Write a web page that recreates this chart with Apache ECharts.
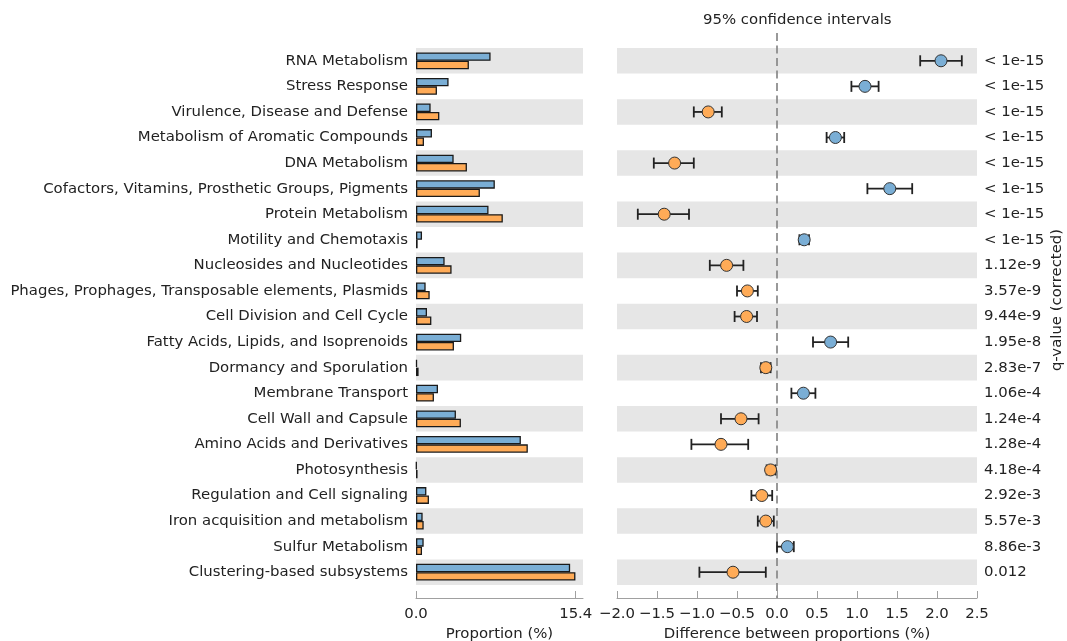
<!DOCTYPE html>
<html>
<head>
<meta charset="utf-8">
<script src="https://cdn.jsdelivr.net/npm/echarts@6/dist/echarts.min.js"></script>
<style>
html,body{margin:0;padding:0;background:#fff;}
#chart{width:1067px;height:641px;}
</style>
</head>
<body>
<div id="chart"></div>
<script>
const categories = ['RNA Metabolism','Stress Response','Virulence, Disease and Defense','Metabolism of Aromatic Compounds','DNA Metabolism','Cofactors, Vitamins, Prosthetic Groups, Pigments','Protein Metabolism','Motility and Chemotaxis','Nucleosides and Nucleotides','Phages, Prophages, Transposable elements, Plasmids','Cell Division and Cell Cycle','Fatty Acids, Lipids, and Isoprenoids','Dormancy and Sporulation','Membrane Transport','Cell Wall and Capsule','Amino Acids and Derivatives','Photosynthesis','Regulation and Cell signaling','Iron acquisition and metabolism','Sulfur Metabolism','Clustering-based subsystems'];
const blueProportion = [7.19,3.14,1.41,1.54,3.63,7.60,6.99,0.58,2.76,0.93,1.06,4.36,0.10,2.12,3.85,10.11,0.06,1.00,0.64,0.74,14.86];
const orangeProportion = [5.10,2.02,2.25,0.77,4.91,6.16,8.37,0.16,3.43,1.32,1.48,3.66,0.25,1.73,4.33,10.78,0.15,1.25,0.74,0.58,15.37];
const difference = [2.05,1.10,-0.86,0.73,-1.28,1.41,-1.41,0.34,-0.63,-0.37,-0.38,0.67,-0.14,0.33,-0.45,-0.70,-0.08,-0.19,-0.14,0.13,-0.55];
const ciLow = [1.79,0.93,-1.04,0.62,-1.54,1.13,-1.74,0.28,-0.84,-0.50,-0.53,0.45,-0.20,0.18,-0.70,-1.07,-0.13,-0.32,-0.24,0.00,-0.97];
const ciHigh = [2.31,1.27,-0.69,0.84,-1.04,1.69,-1.10,0.40,-0.42,-0.24,-0.25,0.89,-0.08,0.48,-0.23,-0.36,-0.02,-0.06,-0.04,0.21,-0.14];
const qValues = ['< 1e-15','< 1e-15','< 1e-15','< 1e-15','< 1e-15','< 1e-15','< 1e-15','< 1e-15','1.12e-9','3.57e-9','9.44e-9','1.95e-8','2.83e-7','1.06e-4','1.24e-4','1.28e-4','4.18e-4','2.92e-3','5.57e-3','8.86e-3','0.012'];
const proportionTicks = [0, 15.4];
const proportionMax = 16.1;
const diffMin = -2.0, diffMax = 2.5, diffStep = 0.5;

const BLUE = '#7AAED5', ORANGE = '#FFAB57';
const FONT = 'DejaVu Sans';
const TXT = '#222';
const FS = 14.9;

const chart = echarts.init(document.getElementById('chart'), null, {renderer: 'canvas'});

const fmtMinus = v => (v < 0 ? '\u2212' : '') + Math.abs(v).toFixed(1);

const option = {
  animation: false,
  backgroundColor: '#fff',
  textStyle: {fontFamily: FONT},
  grid: [
    {left: 416, top: 48, width: 167, height: 537, containLabel: false, outerBoundsMode: 'none'},
    {left: 617, top: 48, width: 360, height: 537, containLabel: false, outerBoundsMode: 'none'}
  ],
  xAxis: [
    {
      gridIndex: 0, type: 'value', min: 0, max: proportionMax, offset: 13,
      splitLine: {show: false},
      axisLine: {show: true, lineStyle: {color: '#a0a0a0', width: 1}},
      axisTick: {show: true, inside: true, length: 7, lineStyle: {color: '#a0a0a0'}, customValues: proportionTicks},
      axisLabel: {show: true, customValues: proportionTicks, formatter: v => v.toFixed(1), color: TXT, fontSize: FS, fontFamily: FONT, margin: 9},
      name: 'Proportion (%)', nameLocation: 'middle', nameGap: 28,
      nameTextStyle: {color: TXT, fontSize: FS, fontFamily: FONT}
    },
    {
      gridIndex: 1, type: 'value', min: diffMin, max: diffMax, interval: diffStep, offset: 13,
      splitLine: {show: false},
      axisLine: {show: true, lineStyle: {color: '#a0a0a0', width: 1}},
      axisTick: {show: true, inside: true, length: 7, lineStyle: {color: '#a0a0a0'}},
      axisLabel: {formatter: fmtMinus, color: TXT, fontSize: FS, fontFamily: FONT, margin: 9, showMinLabel: true, showMaxLabel: true},
      name: 'Difference between proportions (%)', nameLocation: 'middle', nameGap: 28,
      nameTextStyle: {color: TXT, fontSize: FS, fontFamily: FONT}
    }
  ],
  yAxis: [
    {
      gridIndex: 0, type: 'category', data: categories, inverse: true,
      axisLine: {show: false}, axisTick: {show: false},
      axisLabel: {color: TXT, fontSize: FS, fontFamily: FONT, margin: 8},
      splitLine: {show: false},
      splitArea: {show: true, areaStyle: {color: ['#e6e6e6', 'rgba(255,255,255,0)']}}
    },
    {
      gridIndex: 1, type: 'category', data: categories, inverse: true,
      axisLine: {show: false}, axisTick: {show: false}, axisLabel: {show: false},
      splitLine: {show: false},
      splitArea: {show: true, areaStyle: {color: ['#e6e6e6', 'rgba(255,255,255,0)']}}
    },
    {
      gridIndex: 1, type: 'category', data: categories, inverse: true, position: 'right',
      axisLine: {show: false}, axisTick: {show: false},
      axisLabel: {color: TXT, fontSize: FS, fontFamily: FONT, margin: 7, formatter: (v, i) => qValues[i]},
      splitLine: {show: false}, splitArea: {show: false}
    }
  ],
  graphic: [
    {type: 'text', left: 703, top: 13, style: {text: '95% confidence intervals', fill: TXT, font: FS + 'px "' + FONT + '"'}},
    {type: 'text', x: 1057, y: 300, rotation: Math.PI / 2,
      style: {text: 'q-value (corrected)', fill: TXT, font: FS + 'px "' + FONT + '"', align: 'center', verticalAlign: 'middle'}}
  ],
  series: [
    {
      type: 'bar', xAxisIndex: 0, yAxisIndex: 0, data: blueProportion,
      barWidth: 8.4, barGap: '0%',
      itemStyle: {color: BLUE, borderColor: '#1a1a1a', borderWidth: 1.3}
    },
    {
      type: 'bar', xAxisIndex: 0, yAxisIndex: 0, data: orangeProportion,
      barWidth: 8.4, barGap: '0%',
      itemStyle: {color: ORANGE, borderColor: '#1a1a1a', borderWidth: 1.3}
    },
    {
      type: 'custom', xAxisIndex: 1, yAxisIndex: 1, z: 1, silent: true,
      data: [[0, 0]],
      renderItem: (params, api) => {
        const x = api.coord([api.value(0), 0])[0];
        return {type: 'line', shape: {x1: x, y1: 33, x2: x, y2: 598},
          style: {stroke: '#888', lineWidth: 1.7, lineDash: [8, 4.5]}};
      }
    },
    {
      type: 'custom', xAxisIndex: 1, yAxisIndex: 1, z: 3, silent: true,
      encode: {x: [0, 1], y: 2},
      data: categories.map((c, i) => [ciLow[i], ciHigh[i], i]),
      renderItem: (params, api) => {
        const a = api.coord([api.value(0), api.value(2)]);
        const b = api.coord([api.value(1), api.value(2)]);
        const h = 5.5;
        const st = {stroke: '#222', lineWidth: 1.8};
        return {type: 'group', children: [
          {type: 'line', shape: {x1: a[0], y1: a[1], x2: b[0], y2: b[1]}, style: st},
          {type: 'line', shape: {x1: a[0], y1: a[1] - h, x2: a[0], y2: a[1] + h}, style: st},
          {type: 'line', shape: {x1: b[0], y1: b[1] - h, x2: b[0], y2: b[1] + h}, style: st}
        ]};
      }
    },
    {
      type: 'scatter', xAxisIndex: 1, yAxisIndex: 1, z: 4,
      symbol: 'circle', symbolSize: 12,
      data: difference.map((d, i) => ({value: [d, i], itemStyle: {color: d >= 0 ? BLUE : ORANGE}})),
      itemStyle: {borderColor: '#333', borderWidth: 1, opacity: 1}
    }
  ]
};
chart.setOption(option);
</script>
</body>
</html>
